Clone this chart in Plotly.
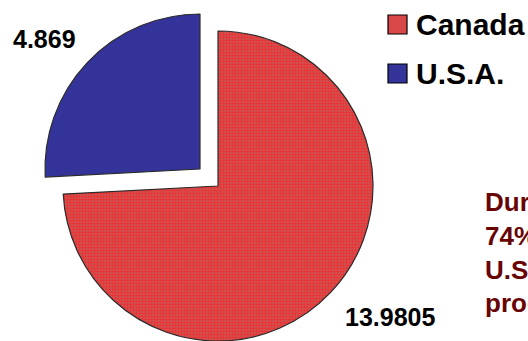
import plotly.graph_objects as go

W, H = 528, 341

# Pie data
countries = ["Canada", "U.S.A."]
values = [13.9805, 4.869]
note_lines = ["During 1999,", "74% of all", "U.S. imports", "produced"]

usa_blue = "#333399"
canada_red = "#d84848"
edge = "#2a2a2a"
clear = "rgba(0,0,0,0)"
note_color = "#680404"
FONT = "Liberation Sans, Arial, sans-serif"


def px_x(x):
    return x / W


def px_y(y):
    return 1 - y / H


def box_domain(cx, cy, r):
    """Paper-space domain for a pie of radius r centred at pixel (cx, cy)."""
    return dict(x=[px_x(cx - r), px_x(cx + r)], y=[px_y(cy + r), px_y(cy - r)])


R = 155
main_center = (218, 186)
# the U.S.A. wedge is drawn exploded, offset along its bisector
exploded_center = (200, 169)

pattern = dict(
    shape=[".", ""],
    fgcolor="#f52c2c",
    bgcolor="#c25a5a",
    size=3,
    solidity=0.5,
)

pie_common = dict(
    labels=countries, values=values, sort=False, direction="clockwise",
    rotation=0, textinfo="none", hoverinfo="skip", showlegend=False,
)

fig = go.Figure()

# Canada wedge (U.S.A. slot left empty)
fig.add_trace(go.Pie(
    domain=box_domain(*main_center, R),
    marker=dict(colors=[canada_red, clear], pattern=pattern,
                line=dict(color=edge, width=[1.2, 0])),
    **pie_common,
))

# exploded U.S.A. wedge
fig.add_trace(go.Pie(
    domain=box_domain(*exploded_center, R),
    marker=dict(colors=[clear, usa_blue],
                line=dict(color=edge, width=[0, 1.2])),
    **pie_common,
))

annotations = []
shapes = []

# value labels
value_label_pos = {"U.S.A.": (44, 39), "Canada": (390, 317)}
for name, v in zip(countries, values):
    lx, ly = value_label_pos[name]
    annotations.append(dict(
        x=px_x(lx), y=px_y(ly), xref="paper", yref="paper",
        text=str(v), showarrow=False, xanchor="center", yanchor="middle",
        font=dict(family=FONT, size=25, color="black", weight="bold"),
    ))

# legend
legend_fill = {"Canada": canada_red, "U.S.A.": usa_blue}
for i, name in enumerate(countries):
    top = 15 + i * 49
    shapes.append(dict(
        type="rect", xref="paper", yref="paper",
        x0=px_x(388), x1=px_x(407), y0=px_y(top + 19), y1=px_y(top),
        fillcolor=legend_fill[name], line=dict(color="black", width=1.2),
    ))
    annotations.append(dict(
        x=px_x(413.5), y=px_y(top + 9.5), xref="paper", yref="paper",
        text=name, showarrow=False, xanchor="left", yanchor="middle",
        font=dict(family=FONT, size=30, color="black", weight="bold"),
    ))

# side note (runs off the right edge of the slide)
annotations.append(dict(
    x=px_x(483), y=px_y(252), xref="paper", yref="paper",
    text="<br>".join(note_lines), showarrow=False, align="left",
    xanchor="left", yanchor="middle",
    font=dict(family=FONT, size=26, color=note_color, weight="bold"),
))

fig.update_layout(
    width=W, height=H, margin=dict(l=0, r=0, t=0, b=0),
    paper_bgcolor="white", plot_bgcolor="white",
    annotations=annotations, shapes=shapes, showlegend=False,
)

fig.write_html("out.html")
